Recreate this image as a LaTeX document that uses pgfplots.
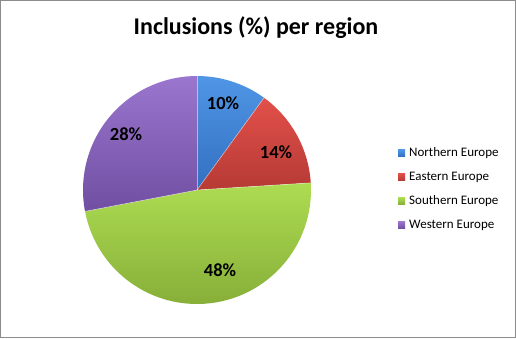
\documentclass[border=0pt]{standalone}
\usepackage{pgfplots}
\pgfplotsset{compat=1.18}
\usepackage{fontspec}
\setmainfont{Carlito}
\definecolor{nTop}{HTML}{5096E6}
\definecolor{nBot}{HTML}{336FC0}
\definecolor{eTop}{HTML}{E2504A}
\definecolor{eBot}{HTML}{B63A35}
\definecolor{sTop}{HTML}{ADDC52}
\definecolor{sBot}{HTML}{86AE38}
\definecolor{wTop}{HTML}{9A76CE}
\definecolor{wBot}{HTML}{704FA2}
\definecolor{frame}{HTML}{8C8C8C}
% data (percent)
\def\vN{10}\def\vE{14}\def\vS{48}\def\vW{28}
\pgfmathsetmacro{\aA}{90}
\pgfmathsetmacro{\aB}{\aA-3.6*\vN}
\pgfmathsetmacro{\aC}{\aB-3.6*\vE}
\pgfmathsetmacro{\aD}{\aC-3.6*\vS}
\pgfmathsetmacro{\aE}{\aD-3.6*\vW}
\def\cx{197}\def\cy{148}\def\R{114pt}
\newcommand\slice[4]{\shade[top color=#3, bottom color=#4] (axis cs:\cx,\cy) -- ([shift={(axis cs:\cx,\cy)}]#1:\R) arc[start angle=#1, end angle=#2, radius=\R] -- cycle;}
\newcommand\sep[1]{\draw[white, opacity=0.5, line width=0.6pt] (axis cs:\cx,\cy) -- ([shift={(axis cs:\cx,\cy)}]#1:\R);}
\newcommand\legitem[4]{\shade[top color=#2, bottom color=#3] (axis cs:398,#1-3.5) rectangle (axis cs:405,#1+3.5);
  \node[anchor=west, inner sep=0pt, font=\fontsize{13}{15}\selectfont] at (axis cs:409,#1) {#4};}
\begin{document}
\begin{tikzpicture}
\begin{axis}[scale only axis, width=516pt, height=338pt,
  xmin=0, xmax=516, ymin=0, ymax=338, hide axis, clip=false]
\draw[frame, line width=1pt] (axis cs:0.5,0.5) rectangle (axis cs:515.5,337.5);
\node[font=\fontsize{24}{28}\selectfont\bfseries] at (axis cs:256,310) {Inclusions (\%) per region};
\slice{\aA}{\aB}{nTop}{nBot}
\slice{\aB}{\aC}{eTop}{eBot}
\slice{\aC}{\aD}{sTop}{sBot}
\slice{\aD}{\aE}{wTop}{wBot}
\sep{\aA}\sep{\aB}\sep{\aC}\sep{\aD}
\node[font=\fontsize{18.5}{21}\selectfont\bfseries] at (axis cs:223,235) {10\%};
\node[font=\fontsize{18.5}{21}\selectfont\bfseries] at (axis cs:276,186) {14\%};
\node[font=\fontsize{18.5}{21}\selectfont\bfseries] at (axis cs:220,68) {48\%};
\node[font=\fontsize{18.5}{21}\selectfont\bfseries] at (axis cs:126,204) {28\%};
\legitem{185}{nTop}{nBot}{Northern Europe}
\legitem{161}{eTop}{eBot}{Eastern Europe}
\legitem{137}{sTop}{sBot}{Southern Europe}
\legitem{113}{wTop}{wBot}{Western Europe}
\end{axis}
\end{tikzpicture}
\end{document}
